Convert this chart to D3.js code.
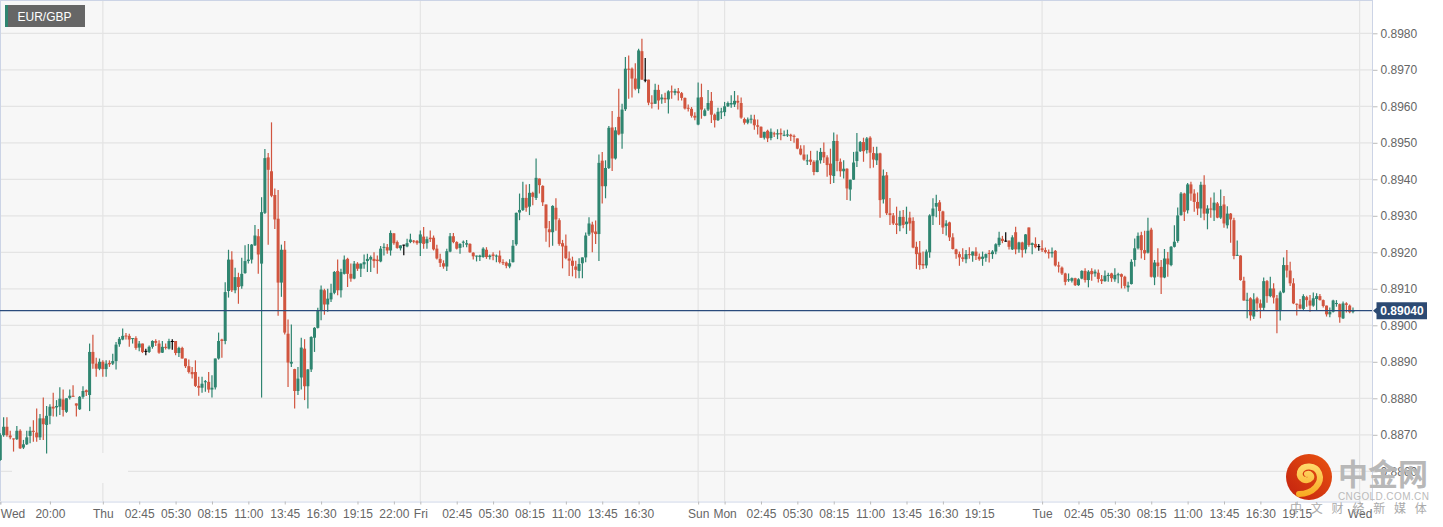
<!DOCTYPE html>
<html>
<head>
<meta charset="utf-8">
<script src="https://cdn.jsdelivr.net/npm/d3@7"></script>
<style>
  html, body { margin: 0; padding: 0; background: #fff; }
  svg { display: block; font-family: "Liberation Sans", Arial, sans-serif; }
</style>
</head>
<body>
<div id="chart"></div>
<script>
// 15 minute candles, prices in 1/100000 (89040 = 0.89040)
const opens = [
88631,88699,88722,88698,88690,88688,88711,88665,88674,88697,
88711,88706,88693,88745,88727,88752,88777,88775,88777,88797,
88763,88801,88807,88786,88770,88804,88822,88809,88927,88895,
88881,88900,88880,88897,88895,88902,88948,88961,88972,88971,
88963,88965,88939,88950,88930,88927,88941,88957,88950,88925,
88941,88936,88957,88957,88924,88938,88909,88888,88872,88872,
88834,88829,88844,88845,88824,88830,88909,88961,88957,89094,
89180,89096,89132,89107,89143,89176,89180,89219,89244,89169,
89308,89460,89422,89357,89292,89117,89207,88977,88895,88880,
88820,88857,88936,88833,88879,88966,88993,89039,89096,89057,
89071,89089,89149,89096,89141,89182,89141,89128,89169,89155,
89167,89176,89180,89182,89180,89175,89213,89214,89205,89252,
89228,89211,89221,89216,89228,89232,89231,89225,89243,89225,
89240,89240,89210,89182,89170,89161,89202,89244,89228,89212,
89227,89221,89223,89199,89190,89187,89187,89207,89187,89194,
89189,89191,89173,89172,89161,89173,89222,89309,89316,89349,
89325,89363,89349,89402,89382,89331,89263,89255,89322,89288,
89225,89218,89183,89177,89161,89149,89170,89186,89249,89276,
89257,89250,89451,89381,89431,89542,89457,89571,89525,89592,
89703,89703,89676,89648,89751,89673,89673,89610,89607,89645,
89619,89623,89619,89641,89637,89641,89636,89623,89596,89593,
89574,89550,89625,89574,89591,89615,89577,89562,89584,89584,
89600,89605,89605,89615,89609,89565,89555,89564,89564,89548,
89544,89514,89533,89513,89526,89523,89527,89520,89520,89522,
89519,89512,89484,89468,89451,89454,89448,89420,89452,89475,
89460,89443,89409,89505,89448,89422,89429,89372,89399,89450,
89477,89502,89480,89514,89472,89452,89471,89345,89411,89307,
89301,89279,89273,89297,89277,89295,89286,89215,89199,89168,
89164,89200,89299,89325,89337,89312,89272,89282,89241,89208,
89195,89186,89181,89195,89191,89202,89188,89182,89185,89198,
89195,89202,89220,89237,89232,89232,89208,89255,89208,89227,
89208,89268,89220,89223,89217,89211,89206,89201,89197,89204,
89164,89158,89142,89124,89122,89129,89110,89128,89149,89124,
89149,89142,89144,89126,89121,89135,89142,89126,89137,89140,
89133,89104,89113,89179,89211,89247,89206,89199,89262,89131,
89172,89160,89131,89183,89165,89215,89231,89302,89361,89315,
89386,89361,89338,89320,89385,89306,89320,89315,89334,89295,
89331,89274,89306,89288,89191,89191,89122,89068,89074,89024,
89074,89060,89048,89121,89080,89101,89074,89039,89090,89165,
89150,89115,89059,89057,89045,89077,89068,89054,89072,89080,
89069,89054,89030,89037,89059,89058,89019,89060,89054,89037
];
const highs = [
88704,88748,88748,88711,88690,88724,88715,88686,88711,88722,
88740,88772,88757,88802,88779,88784,88815,88795,88830,88824,
88800,88824,88836,88786,88806,88833,88824,88950,88974,88911,
88909,88904,88904,88904,88922,88954,88968,88991,88979,88977,
88965,88970,88957,88950,88936,88945,88959,88962,88959,88957,
88950,88963,88962,88957,88941,88941,88909,88906,88886,88904,
88859,88859,88850,88872,88863,88909,88980,88963,89118,89207,
89203,89158,89144,89185,89219,89223,89223,89275,89264,89351,
89483,89472,89556,89375,89371,89221,89231,89016,89002,88881,
88886,88966,88962,88880,88970,88995,89048,89109,89100,89100,
89114,89149,89180,89155,89191,89185,89169,89176,89173,89169,
89194,89196,89191,89200,89191,89217,89225,89223,89260,89252,
89232,89219,89221,89237,89251,89234,89234,89260,89269,89243,
89260,89246,89221,89196,89178,89210,89253,89253,89230,89225,
89232,89234,89225,89200,89191,89193,89214,89214,89194,89200,
89194,89205,89181,89175,89181,89234,89309,89361,89393,89386,
89387,89366,89457,89402,89384,89331,89286,89329,89348,89293,
89234,89249,89202,89188,89177,89184,89186,89254,89296,89284,
89287,89468,89475,89452,89546,89587,89543,89648,89607,89735,
89739,89706,89718,89758,89785,89732,89673,89630,89662,89659,
89633,89637,89644,89657,89648,89650,89639,89624,89605,89598,
89584,89665,89662,89594,89645,89639,89580,89596,89596,89612,
89613,89630,89642,89630,89624,89569,89569,89577,89577,89564,
89545,89530,89536,89539,89530,89537,89539,89534,89536,89525,
89523,89512,89493,89493,89468,89478,89452,89478,89486,89501,
89466,89484,89528,89523,89457,89452,89430,89399,89475,89527,
89505,89514,89516,89518,89489,89489,89473,89427,89420,89349,
89308,89325,89314,89316,89325,89311,89296,89229,89231,89202,
89208,89304,89348,89358,89343,89314,89288,89284,89252,89210,
89202,89211,89206,89214,89202,89214,89197,89202,89197,89206,
89206,89225,89256,89245,89255,89232,89247,89270,89229,89229,
89250,89268,89227,89241,89223,89233,89213,89208,89213,89206,
89174,89161,89144,89142,89131,89130,89129,89151,89156,89151,
89156,89153,89153,89138,89150,89144,89144,89156,89144,89142,
89136,89119,89181,89238,89254,89256,89259,89295,89267,89179,
89211,89179,89209,89201,89217,89274,89323,89365,89363,89390,
89393,89373,89364,89393,89411,89329,89350,89364,89338,89372,
89354,89326,89308,89295,89232,89192,89133,89089,89077,89088,
89078,89071,89131,89124,89133,89115,89083,89095,89186,89206,
89174,89129,89060,89072,89085,89081,89083,89090,89088,89086,
89071,89054,89049,89070,89069,89060,89065,89063,89057,89049
];
const lows = [
88629,88695,88695,88688,88654,88686,88661,88661,88672,88677,
88681,88681,88686,88686,88649,88729,88750,88750,88754,88750,
88760,88797,88804,88750,88768,88799,88806,88765,88881,88859,
88877,88859,88859,88886,88891,88879,88941,88959,88961,88941,
88950,88933,88929,88924,88918,88924,88936,88943,88922,88924,
88934,88934,88933,88918,88913,88909,88883,88868,88854,88831,
88807,88815,88818,88815,88802,88824,88906,88911,88948,89076,
89091,89088,89059,89100,89141,89169,89169,89217,89141,88802,
89305,89221,89351,89264,89026,89078,88975,88831,88886,88772,
88809,88824,88795,88772,88872,88927,88991,89014,89029,89037,
89064,89085,89082,89076,89139,89105,89119,89126,89149,89132,
89155,89146,89146,89158,89141,89173,89191,89196,89191,89221,
89210,89205,89192,89214,89225,89225,89221,89190,89210,89210,
89228,89205,89180,89160,89155,89149,89200,89225,89208,89196,
89214,89214,89199,89180,89175,89176,89185,89182,89180,89178,
89173,89169,89165,89156,89156,89172,89218,89288,89313,89311,
89302,89329,89343,89361,89327,89229,89214,89218,89259,89218,
89156,89181,89135,89134,89129,89129,89129,89173,89245,89200,
89223,89176,89334,89348,89428,89423,89454,89521,89484,89587,
89621,89624,89644,89636,89673,89666,89603,89594,89607,89591,
89607,89609,89580,89621,89630,89616,89616,89591,89586,89569,
89562,89548,89566,89573,89587,89554,89542,89560,89565,89573,
89598,89596,89598,89591,89566,89550,89551,89553,89536,89523,
89513,89509,89502,89507,89516,89510,89507,89518,89516,89505,
89500,89482,89466,89451,89439,89439,89411,89419,89443,89445,
89407,89387,89390,89422,89407,89402,89343,89341,89398,89434,
89475,89448,89471,89430,89432,89439,89295,89334,89302,89275,
89275,89250,89258,89266,89250,89259,89211,89154,89152,89154,
89156,89185,89275,89296,89275,89250,89246,89231,89208,89182,
89163,89174,89170,89182,89174,89179,89177,89163,89174,89172,
89182,89195,89215,89225,89229,89208,89206,89195,89199,89186,
89197,89215,89195,89211,89204,89201,89197,89183,89186,89161,
89145,89138,89110,89119,89117,89108,89108,89126,89117,89104,
89122,89133,89117,89113,89119,89119,89119,89119,89115,89101,
89101,89092,89112,89161,89208,89183,89179,89197,89131,89110,
89133,89086,89129,89133,89162,89213,89226,89300,89286,89306,
89341,89311,89302,89295,89288,89263,89295,89286,89293,89291,
89267,89265,89226,89181,89190,89122,89067,89019,89013,89017,
89037,89019,89042,89062,89077,89060,88978,89013,89088,89131,
89108,89058,89027,89044,89042,89051,89037,89051,89042,89068,
89049,89024,89022,89035,89051,89007,89017,89035,89033,89033
];
const closes = [
88699,88722,88699,88693,88688,88711,88663,88674,88693,88711,
88708,88693,88745,88729,88752,88777,88772,88779,88799,88768,
88800,88807,88804,88780,88804,88820,88817,88927,88895,88881,
88900,88880,88895,88893,88902,88947,88963,88971,88971,88961,
88965,88938,88950,88927,88930,88941,88957,88952,88925,88941,
88938,88957,88957,88924,88938,88909,88888,88872,88866,88834,
88829,88840,88847,88824,88829,88909,88957,88957,89091,89180,
89096,89132,89105,89141,89176,89180,89221,89246,89194,89310,
89458,89426,89355,89290,89117,89207,88980,88898,88900,88820,
88854,88939,88833,88879,88968,88993,89039,89098,89057,89073,
89089,89146,89096,89146,89180,89141,89128,89169,89155,89169,
89173,89182,89187,89176,89176,89210,89215,89205,89253,89225,
89212,89219,89221,89225,89235,89229,89225,89249,89223,89236,
89236,89208,89183,89171,89161,89203,89244,89228,89210,89223,
89229,89225,89200,89189,89191,89191,89210,89187,89191,89190,
89191,89173,89171,89163,89170,89218,89308,89316,89349,89322,
89363,89352,89404,89384,89337,89266,89255,89327,89290,89223,
89216,89184,89177,89163,89152,89168,89186,89246,89279,89254,
89250,89445,89381,89431,89541,89457,89534,89523,89591,89703,
89701,89676,89648,89753,89673,89673,89610,89607,89645,89616,
89624,89619,89641,89639,89642,89636,89623,89594,89595,89574,
89569,89624,89591,89589,89609,89577,89562,89585,89586,89600,
89609,89609,89615,89610,89569,89555,89564,89566,89548,89544,
89514,89530,89512,89530,89523,89526,89523,89522,89523,89518,
89517,89484,89468,89454,89452,89448,89420,89452,89475,89460,
89439,89411,89505,89450,89422,89429,89375,89399,89446,89476,
89502,89477,89512,89473,89454,89471,89343,89410,89307,89302,
89279,89275,89297,89275,89284,89279,89213,89195,89165,89164,
89202,89301,89320,89335,89313,89268,89279,89241,89209,89195,
89186,89182,89195,89193,89202,89190,89181,89188,89195,89196,
89202,89222,89240,89231,89232,89215,89241,89208,89227,89206,
89249,89220,89225,89214,89217,89206,89201,89197,89201,89164,
89161,89142,89119,89126,89129,89110,89126,89149,89124,89147,
89140,89147,89127,89121,89136,89138,89129,89138,89140,89133,
89108,89109,89174,89211,89245,89206,89197,89259,89133,89172,
89162,89131,89183,89167,89215,89229,89301,89361,89311,89386,
89361,89338,89320,89385,89306,89320,89317,89336,89295,89327,
89279,89306,89290,89190,89193,89124,89068,89070,89027,89071,
89060,89048,89121,89080,89101,89076,89039,89090,89165,89150,
89115,89060,89057,89046,89080,89069,89054,89074,89080,89069,
89053,89030,89037,89068,89061,89022,89060,89056,89036,89040
];

const currentPrice = 89040;
const symbol = "EUR/GBP";

// candle index of each time label on the bottom axis
const xTickIndex = [0,15,31,42,53,64,75,86,97,108,119,127,138,149,160,171,182,193,211,219,230,241,252,263,274,285,296,315,326,337,348,359,370,381,392,411];
const xTickLabels = ["Wed","20:00","Thu","02:45","05:30","08:15","11:00","13:45","16:30","19:15","22:00","Fri","02:45","05:30","08:15","11:00","13:45","16:30","Sun","Mon","02:45","05:30","08:15","11:00","13:45","16:30","19:15","Tue","02:45","05:30","08:15","11:00","13:45","16:30","19:15","Wed"];
const dayGridIndex = [31,127,211,219,315,411];
const yTicks = [88600,88700,88800,88900,89000,89100,89200,89300,89400,89500,89600,89700,89800];

const width = 1443, height = 527;
const plotRight = 1372, plotBottom = 501;
const green = "#2f8570", red = "#d1553f";

const x = d3.scaleLinear().domain([0, 411]).range([0.3, 1359.6]);
const y = d3.scaleLinear().domain([88600, 89800]).range([471.3, 33.3]);

const svg = d3.select("#chart").append("svg")
  .attr("width", width)
  .attr("height", height);

// -----------------------------
// Plot background & grid
// -----------------------------
svg.append("rect")
  .attr("width", plotRight)
  .attr("height", plotBottom)
  .attr("fill", "#f7f7f7");

svg.append("g").selectAll("line")
  .data(yTicks)
  .join("line")
  .attr("x1", 0)
  .attr("x2", plotRight)
  .attr("y1", d => y(d))
  .attr("y2", d => y(d))
  .attr("stroke", "#e4e4e4")
  .attr("stroke-width", 1.2);

svg.append("g").selectAll("line")
  .data(dayGridIndex)
  .join("line")
  .attr("x1", d => x(d))
  .attr("x2", d => x(d))
  .attr("y1", 0)
  .attr("y2", plotBottom)
  .attr("stroke", "#e4e4e4")
  .attr("stroke-width", 1.2);

// erased patch on the grid, bottom left
svg.append("rect")
  .attr("x", 12)
  .attr("y", 453)
  .attr("width", 116)
  .attr("height", 30)
  .attr("fill", "#f7f7f7");

// -----------------------------
// Axes
// -----------------------------
const xAxis = d3.axisBottom(x)
  .tickValues(xTickIndex)
  .tickFormat((d, i) => xTickLabels[i])
  .tickSize(3)
  .tickPadding(5);

const gx = svg.append("g")
  .attr("transform", `translate(0,${plotBottom + 0.5})`)
  .call(xAxis);
gx.select(".domain").attr("stroke", "#ccd4e6");
gx.selectAll(".tick line").attr("stroke", "#bbb");
gx.selectAll(".tick text")
  .attr("fill", "#666")
  .style("font-size", "12px")
  .style("font-family", "'Liberation Sans', Arial, sans-serif");
gx.select(".tick text").attr("text-anchor", "start");

const yAxis = d3.axisRight(y)
  .tickValues(yTicks)
  .tickFormat(d => (d / 100000).toFixed(4))
  .tickSize(5)
  .tickPadding(3);

const gy = svg.append("g")
  .attr("transform", `translate(${plotRight + 0.5},0)`)
  .call(yAxis);
gy.select(".domain").remove();
gy.selectAll(".tick line").attr("stroke", "#bbb");
gy.selectAll(".tick text")
  .attr("fill", "#666")
  .style("font-size", "12px")
  .style("font-family", "'Liberation Sans', Arial, sans-serif");

// plot borders
const borders = [[0.5, 0, 0.5, plotBottom], [0, 0.5, plotRight, 0.5], [plotRight + 0.5, 0, plotRight + 0.5, plotBottom]];
svg.append("g").selectAll("line")
  .data(borders)
  .join("line")
  .attr("x1", d => d[0])
  .attr("y1", d => d[1])
  .attr("x2", d => d[2])
  .attr("y2", d => d[3])
  .attr("stroke", "#ccd4e6");

// -----------------------------
// Candles
// -----------------------------
const idx = d3.range(opens.length);
const candleColor = i => opens[i] === closes[i] ? "#000" : (closes[i] > opens[i] ? green : red);

svg.append("g").selectAll("line")
  .data(idx)
  .join("line")
  .attr("x1", i => x(i))
  .attr("x2", i => x(i))
  .attr("y1", i => y(highs[i]))
  .attr("y2", i => y(lows[i]))
  .attr("stroke", candleColor)
  .attr("stroke-width", 1.2);

svg.append("g").selectAll("rect")
  .data(idx)
  .join("rect")
  .attr("x", i => x(i) - 1.5)
  .attr("y", i => y(Math.max(opens[i], closes[i])))
  .attr("width", 3)
  .attr("height", i => Math.max(1, Math.abs(y(opens[i]) - y(closes[i]))))
  .attr("fill", candleColor);

// -----------------------------
// Current price line & tag
// -----------------------------
svg.append("line")
  .attr("x1", 0)
  .attr("x2", plotRight)
  .attr("y1", y(currentPrice))
  .attr("y2", y(currentPrice))
  .attr("stroke", "#2a4b7c")
  .attr("stroke-width", 1.2);

const tagY = y(currentPrice);
svg.append("path")
  .attr("d", `M1373,${tagY} L1376.5,${tagY - 3} L1376.5,${tagY - 8.5} L1427,${tagY - 8.5} L1427,${tagY + 8.5} L1376.5,${tagY + 8.5} L1376.5,${tagY + 3} Z`)
  .attr("fill", "#2c4a73");

svg.append("text")
  .attr("x", 1402)
  .attr("y", tagY + 4.5)
  .attr("text-anchor", "middle")
  .attr("fill", "#fff")
  .style("font-size", "12px")
  .style("font-weight", "bold")
  .text((currentPrice / 100000).toFixed(5));

// -----------------------------
// Symbol label
// -----------------------------
svg.append("rect")
  .attr("x", 5).attr("y", 5)
  .attr("width", 80).attr("height", 22)
  .attr("fill", "#666");
svg.append("rect")
  .attr("x", 5).attr("y", 5)
  .attr("width", 3).attr("height", 22)
  .attr("fill", green);
svg.append("text")
  .attr("x", 17.5)
  .attr("y", 21)
  .attr("fill", "#fff")
  .style("font-size", "12px")
  .text(symbol);

// -----------------------------
// Logo
// -----------------------------
const defs = svg.append("defs");
const logoRed = defs.append("linearGradient")
  .attr("id", "logo-red")
  .attr("x1", "0%").attr("y1", "100%")
  .attr("x2", "100%").attr("y2", "0%");
logoRed.append("stop").attr("offset", "0%").attr("stop-color", "#c2200f");
logoRed.append("stop").attr("offset", "100%").attr("stop-color", "#ea5410");

const logoYellow = defs.append("linearGradient")
  .attr("id", "logo-yellow")
  .attr("gradientUnits", "userSpaceOnUse")
  .attr("x1", 0).attr("y1", -14)
  .attr("x2", 0).attr("y2", 20);
logoYellow.append("stop").attr("offset", "0%").attr("stop-color", "#ffdc70");
logoYellow.append("stop").attr("offset", "100%").attr("stop-color", "#f8a81e");

const logo = svg.append("g").attr("transform", "translate(1309,477)");
logo.append("circle").attr("r", 23).attr("fill", "url(#logo-red)");
logo.append("path")
  .attr("d", "M-10,17 C4,17 14,6 10,-4 C7,-12 -6,-13 -9,-5 C-11,2 -2,6 2,1 C3,-1 1,-4 -2,-3")
  .attr("fill", "none")
  .attr("stroke", "url(#logo-yellow)")
  .attr("stroke-width", 6)
  .attr("stroke-linecap", "round");

const cjk = "'Noto Sans CJK SC', sans-serif";
svg.append("text")
  .attr("x", 1338)
  .attr("y", 485)
  .attr("fill", "#b8b8b8")
  .style("font-family", cjk)
  .style("font-size", "30px")
  .style("font-weight", "bold")
  .text("中金网");
svg.append("text")
  .attr("x", 1338)
  .attr("y", 499.5)
  .attr("fill", "#bbb")
  .style("font-size", "10px")
  .style("letter-spacing", "0.4px")
  .text("CNGOLD.COM.CN");
svg.append("text")
  .attr("x", 1290)
  .attr("y", 513)
  .attr("fill", "#aaa")
  .style("font-family", cjk)
  .style("font-size", "12px")
  .style("letter-spacing", "8.8px")
  .text("中文财经新媒体");
</script>
</body>
</html>
